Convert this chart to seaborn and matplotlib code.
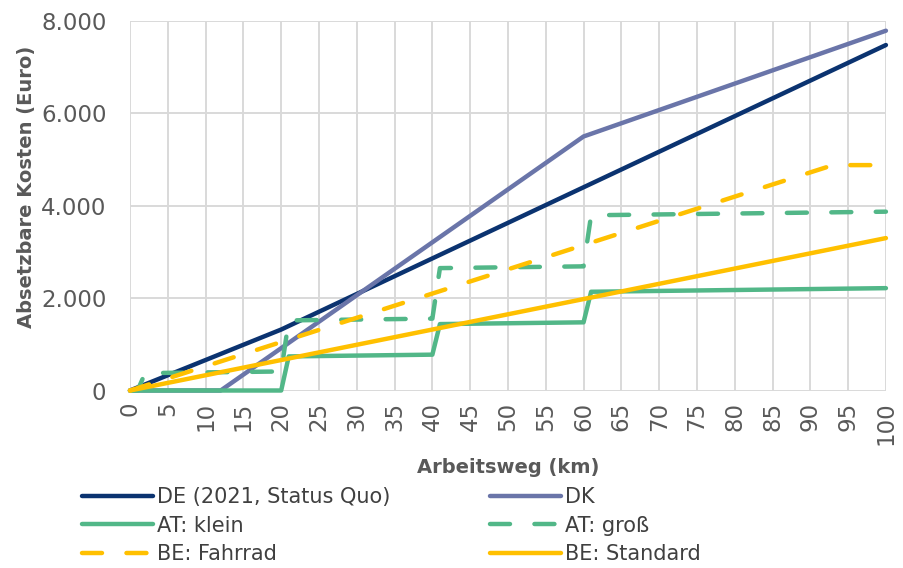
import pandas as pd
import numpy as np
import matplotlib
matplotlib.use('Agg')
import matplotlib.pyplot as plt
import seaborn as sns
from matplotlib.ticker import MultipleLocator, FuncFormatter

# Eckpunkte der Kurven (Arbeitsweg in km, absetzbare Kosten in Euro)
km_de = [0, 20, 100]
kosten_de = [0, 1320, 7480]

km_dk = [0, 12, 60, 100]
kosten_dk = [0, 0, 5500, 7790]

km_at_klein = [0, 20, 21, 40, 41, 60, 61, 100]
kosten_at_klein = [0, 0, 738, 776, 1438, 1476, 2138, 2216]

km_at_gross = [0, 1, 2, 20, 21, 40, 41, 60, 61, 100]
kosten_at_gross = [0, 0, 376, 412, 1518, 1556, 2650, 2688, 3794, 3872]

km_be_fahrrad = [0, 93, 100]
kosten_be_fahrrad = [0, 4880, 4880]

km_be_standard = [0, 100]
kosten_be_standard = [0, 3300]

namen = ['DE (2021, Status Quo)', 'DK', 'AT: klein', 'AT: groß', 'BE: Fahrrad', 'BE: Standard']
farben = ['#0b3370', '#6a75a9', '#52b788', '#52b788', '#ffc000', '#ffc000']
striche = ['', '', '', (4.5, 5.5), (4.5, 5.5), '']

serien = [(km_de, kosten_de), (km_dk, kosten_dk), (km_at_klein, kosten_at_klein),
          (km_at_gross, kosten_at_gross), (km_be_fahrrad, kosten_be_fahrrad),
          (km_be_standard, kosten_be_standard)]
df = pd.concat([pd.DataFrame({'km': k, 'kosten': v, 'serie': n})
                for n, (k, v) in zip(namen, serien)], ignore_index=True)

sns.set_theme(style='whitegrid')
plt.rcParams['font.family'] = ['DejaVu Sans']

fig, ax = plt.subplots(figsize=(9.04, 5.68), dpi=100)
fig.subplots_adjust(left=0.1438, right=0.980, top=0.963, bottom=0.3125)

sns.lineplot(data=df, x='km', y='kosten', hue='serie', style='serie',
             hue_order=namen, style_order=namen,
             palette=dict(zip(namen, farben)), dashes=dict(zip(namen, striche)),
             linewidth=3.2, estimator=None, sort=False, legend=False, ax=ax)

for line in ax.lines:
    line.set_dash_capstyle('round')
    line.set_solid_capstyle('round')
    line.set_solid_joinstyle('round')
    line.set_clip_on(False)

ax.set_xlim(0, 100)
ax.set_ylim(0, 8000)
ax.xaxis.set_major_locator(MultipleLocator(5))
ax.yaxis.set_major_locator(MultipleLocator(2000))
ax.yaxis.set_major_formatter(FuncFormatter(lambda v, p: f'{v:,.0f}'.replace(',', '.')))
ax.grid(True, color='#d9d9d9', linewidth=1.4)
for s in ax.spines.values():
    s.set_visible(False)
ax.tick_params(axis='both', length=0, labelsize=16.5, colors='#595959')
ax.tick_params(axis='x', pad=8, labelrotation=90)
ax.tick_params(axis='y', pad=17)

ax.set_xlabel('Arbeitsweg (km)', fontsize=14, fontweight='bold', color='#595959', labelpad=9)
ax.set_ylabel('Absetzbare Kosten (Euro)', fontsize=14, fontweight='bold', color='#595959')
ax.yaxis.set_label_coords(-0.125, 0.55)

h = ax.lines[:6]
reihenfolge = [0, 2, 4, 1, 3, 5]
fig.legend([h[i] for i in reihenfolge], [namen[i] for i in reihenfolge],
           ncol=2, loc='upper left', bbox_to_anchor=(0.0907, 0.142), frameon=False,
           borderpad=0, borderaxespad=0,
           fontsize=15, handlelength=3.4, handletextpad=0.2, columnspacing=4.8,
           labelspacing=0.4, labelcolor='#404040')

plt.savefig('out.png', dpi=100)
